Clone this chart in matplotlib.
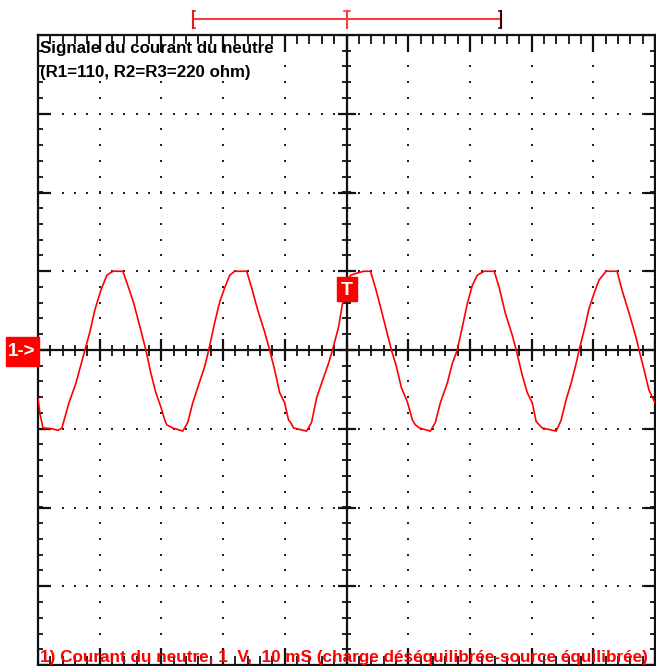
import numpy as np
import matplotlib
matplotlib.use("Agg")
import matplotlib.pyplot as plt
import matplotlib.transforms as mtransforms
from matplotlib.patches import Rectangle

plt.rcParams['font.family'] = ['Liberation Sans', 'DejaVu Sans']

# Signal: time in ms, value in V (1 V/div, 10 ms/div)
t_ms = [0.0, 0.32, 0.81, 2.27, 3.24, 3.88, 5.02, 6.15, 7.61, 8.41, 9.22, 10.19, 11.17, 12.14, 13.75,
        14.56, 15.53, 16.67, 17.48, 18.28, 19.09, 19.90, 20.55,
        20.87, 21.84, 23.46, 24.27, 25.08, 26.21, 27.02, 27.67, 28.64, 29.45, 30.26, 31.07, 31.88, 33.82,
        34.63, 35.60, 36.73, 37.54, 38.35, 39.16, 39.97, 40.61,
        40.94, 41.42, 43.53, 44.34, 45.15, 46.28, 47.09, 47.73, 48.71, 49.35, 50.00, 50.65, 51.46, 52.75, 53.88,
        54.69, 55.50, 56.47, 57.28, 58.09, 58.90, 59.87, 60.68,
        61.17, 61.81, 63.59, 64.40, 65.21, 66.34, 67.15, 67.96, 68.77, 69.58, 70.39, 71.20, 72.33, 73.95,
        74.76, 75.73, 76.86, 77.51, 78.48, 79.29, 80.10, 80.74,
        81.23, 81.72, 83.98, 84.79, 85.60, 86.41, 87.22, 87.70, 88.51, 89.32, 90.13, 90.94, 92.07, 93.85,
        94.66, 95.79, 96.93, 97.41, 98.22, 99.03, 100.0]
volts = [-0.62, -0.81, -0.99, -1.0, -1.02, -0.99, -0.67, -0.42, 0.0, 0.23, 0.51, 0.76, 0.95, 1.0, 1.0,
         0.82, 0.59, 0.25, 0.0, -0.29, -0.54, -0.72, -0.89,
         -0.95, -0.99, -1.03, -0.92, -0.67, -0.40, -0.21, 0.0, 0.35, 0.61, 0.79, 0.95, 1.0, 1.0,
         0.79, 0.51, 0.23, 0.0, -0.25, -0.54, -0.67, -0.89,
         -0.92, -0.99, -1.03, -0.92, -0.61, -0.35, -0.17, 0.0, 0.29, 0.59, 0.85, 0.95, 0.97, 1.0, 1.0,
         0.79, 0.55, 0.25, 0.0, -0.21, -0.48, -0.66, -0.89,
         -0.95, -0.99, -1.03, -0.92, -0.67, -0.42, -0.17, 0.0, 0.29, 0.59, 0.82, 0.95, 1.0, 1.0,
         0.79, 0.47, 0.19, 0.0, -0.32, -0.54, -0.67, -0.91,
         -0.95, -0.99, -1.03, -0.89, -0.63, -0.42, -0.17, 0.0, 0.25, 0.53, 0.72, 0.89, 1.0, 1.0,
         0.76, 0.47, 0.16, 0.0, -0.25, -0.51, -0.67]

trig_time = 50.0      # ms
trig_level = 0.77     # V
window = [25.2, 75.1]  # ms, memory window bar on top

title_lines = ["Signale du courant du neutre", "(R1=110, R2=R3=220 ohm)"]
caption = "1) Courant du neutre, 1  V,  10 mS (charge déséquilibrée-source équilibrée)"

W, H = 656, 666
fig = plt.figure(figsize=(W / 100, H / 100), dpi=100)
ax = fig.add_axes([38 / W, 1 / H, 617 / W, 630 / H])
ax.set_xlim(0, 100)
ax.set_ylim(-4, 4)
ax.set_xticks([])
ax.set_yticks([])
for s in ax.spines.values():
    s.set_linewidth(1.6)
    s.set_color('#111111')

# dotted graticule
xs_minor = np.arange(0, 100.01, 2)
ys_minor = np.arange(-4, 4.01, 0.2)
for gx in [10, 20, 30, 40, 60, 70, 80, 90]:
    ax.scatter(np.full(len(ys_minor), gx), ys_minor, s=1.6, marker='s', color='#222222', lw=0, zorder=2)
for gy in [-3, -2, -1, 1, 2, 3]:
    ax.scatter(xs_minor, np.full(len(xs_minor), gy), s=1.6, marker='s', color='#222222', lw=0, zorder=2)

# centre axes
ax.axhline(0, color='#111111', lw=1.6, zorder=3)
ax.axvline(50, color='#111111', lw=1.6, zorder=3)

px_x = 100 / 617  # ms per pixel
px_y = 8 / 630    # V per pixel
maj_x = np.arange(0, 100.01, 10)
maj_y = np.arange(-4, 4.01, 1)
# ticks on the horizontal centre line
ax.vlines(xs_minor, -5.5 * px_y, 5.5 * px_y, color='#111111', lw=1.3, zorder=3)
ax.vlines(maj_x, -11 * px_y, 11 * px_y, color='#111111', lw=1.6, zorder=3)
# ticks on the vertical centre line
ax.hlines(ys_minor, 50 - 4.5 * px_x, 50 + 4.5 * px_x, color='#111111', lw=1.3, zorder=3)
ax.hlines(maj_y, 50 - 9 * px_x, 50 + 9 * px_x, color='#111111', lw=1.6, zorder=3)
# border ticks
ax.vlines(xs_minor, 4 - 9 * px_y, 4, color='#111111', lw=1.3)
ax.vlines(maj_x, 4 - 17 * px_y, 4, color='#111111', lw=1.6)
ax.vlines(xs_minor, -4, -4 + 9 * px_y, color='#111111', lw=1.3)
ax.vlines(maj_x, -4, -4 + 17 * px_y, color='#111111', lw=1.6)
ax.hlines(ys_minor, 0, 5 * px_x, color='#111111', lw=1.3)
ax.hlines(maj_y, 0, 13 * px_x, color='#111111', lw=1.6)
ax.hlines(ys_minor, 100 - 5 * px_x, 100, color='#111111', lw=1.3)
ax.hlines(maj_y, 100 - 11 * px_x, 100, color='#111111', lw=1.6)

# signal
ax.plot(t_ms, volts, color='#ff0000', lw=1.2, zorder=4)

# trigger marker
ax.add_patch(Rectangle((trig_time - 10 * px_x, trig_level - 12 * px_y), 20 * px_x, 24 * px_y,
                       color='#ff0000', zorder=5))
ax.text(trig_time, trig_level - 1 * px_y, "T", color='white', ha='center', va='center',
        fontsize=14, fontweight='bold', zorder=6)

# channel marker
fig.patches.append(Rectangle((6 / W, 1 - 366 / H), 33 / W, 29 / H, color='#ff0000',
                             transform=fig.transFigure))
fig.text(22 / W, 1 - 352 / H, "1->", color='white', ha='center', va='center', fontsize=13.5,
         fontweight='bold')

# memory window bar
tr = mtransforms.blended_transform_factory(ax.transData, fig.transFigure)
yb = 1 - 19 / H
yt = 1 - 11 / H
ybot = 1 - 28 / H
bar_kw = dict(transform=tr, clip_on=False)
ax.plot(window, [yb, yb], color='#ff3a3a', lw=1.5, **bar_kw)
ax.plot([window[0], window[0]], [yt, ybot], color='#dd2020', lw=1.5, **bar_kw)
ax.plot([window[0], window[0] + 2 * px_x], [yt, yt], color='#dd2020', lw=1.2, **bar_kw)
ax.plot([window[0], window[0] + 2 * px_x], [ybot, ybot], color='#dd2020', lw=1.2, **bar_kw)
ax.plot([window[1], window[1]], [yt, ybot], color='#400000', lw=1.5, **bar_kw)
ax.plot([window[1], window[1] - 2 * px_x], [yt, yt], color='#400000', lw=1.2, **bar_kw)
ax.plot([window[1], window[1] - 2 * px_x], [ybot, ybot], color='#400000', lw=1.2, **bar_kw)
ax.plot([trig_time, trig_time], [yt, ybot], color='#ff3a3a', lw=1.5, **bar_kw)
ax.plot([trig_time - 3 * px_x, trig_time + 3 * px_x], [yt, yt], color='#ff3a3a', lw=1.2, **bar_kw)

# texts
fig.text(40 / W, 1 - 53 / H, title_lines[0], fontsize=12.2, fontweight='bold', va='baseline')
fig.text(40 / W, 1 - 77 / H, title_lines[1], fontsize=12.2, fontweight='bold', va='baseline')
fig.text(40 / W, 1 - 662 / H, caption, fontsize=12.3, fontweight='bold', color='#ff0000',
         va='baseline')

fig.savefig("out.png", dpi=100)
